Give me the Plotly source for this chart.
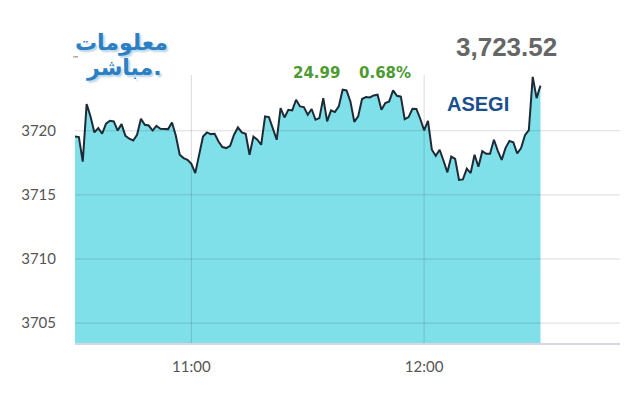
import pandas as pd
import plotly.graph_objects as go

# ---- data ----
start_time = "2024-01-01 10:30"
values = [
    3719.55, 3719.51, 3717.60, 3722.09, 3721.12, 3719.87, 3720.21, 3719.77, 3720.55, 3720.78,
    3720.73, 3720.02, 3720.52, 3719.61, 3719.38, 3719.24, 3719.69, 3720.94, 3720.47, 3720.41,
    3720.02, 3720.39, 3720.16, 3720.13, 3720.13, 3720.65, 3719.61, 3718.13, 3717.87, 3717.73,
    3717.42, 3716.70, 3718.26, 3719.55, 3719.87, 3719.74, 3719.77, 3719.16, 3718.73, 3718.65,
    3718.83, 3719.69, 3720.26, 3719.87, 3719.77, 3718.13, 3719.55, 3719.30, 3718.91, 3721.12,
    3721.07, 3720.21, 3719.30, 3721.77, 3721.04, 3721.64, 3721.59, 3722.42, 3721.90, 3721.85,
    3721.25, 3721.70, 3720.86, 3720.99, 3722.55, 3720.73, 3721.59, 3721.46, 3721.90, 3723.20,
    3723.15, 3722.29, 3720.70, 3721.12, 3722.48, 3722.63, 3722.60, 3722.76, 3722.81, 3721.64,
    3722.16, 3722.29, 3723.15, 3722.73, 3722.66, 3720.91, 3721.07, 3721.72, 3721.70, 3720.94,
    3720.04, 3720.78, 3718.52, 3718.05, 3718.52, 3717.66, 3716.76, 3717.99, 3717.81, 3716.17,
    3716.21, 3717.05, 3716.70, 3718.13, 3717.19, 3718.41, 3718.20, 3718.20, 3719.30, 3718.44,
    3717.73, 3718.67, 3719.20, 3719.10, 3718.23, 3718.65, 3719.65, 3720.05, 3724.20, 3722.55,
    3723.52,
]
times = pd.date_range(start_time, periods=len(values), freq="1min")

x_tick_vals = ["2024-01-01 11:00", "2024-01-01 12:00"]
x_tick_text = ["11:00", "12:00"]
y_tick_vals = [3705, 3710, 3715, 3720]
y_tick_text = ["3705", "3710", "3715", "3720"]
x_range = ["2024-01-01 10:30", "2024-01-01 12:50:30"]
y_range = [3703.45, 3724.35]

last_value_text = "3,723.52"
change_text = "24.99"
change_pct_text = "0.68%"
index_name = "ASEGI"
logo_line1 = "معلومات"
logo_line2 = "مباشر."

fig = go.Figure()
fig.add_trace(go.Scatter(
    x=times, y=values, mode="lines",
    line=dict(color="#1e2b36", width=2),
    fill="tozeroy", fillcolor="#80e0ea",
    hoverinfo="x+y",
))

grid_color = "rgba(0,0,0,0.14)"
shapes = []
for v in y_tick_vals:
    shapes.append(dict(type="line", xref="paper", x0=0, x1=1, yref="y", y0=v, y1=v,
                       line=dict(color=grid_color, width=1), layer="above"))
for t in x_tick_vals:
    shapes.append(dict(type="line", xref="x", x0=t, x1=t, yref="paper", y0=0, y1=1,
                       line=dict(color=grid_color, width=1), layer="above"))


def label(text, x, y, size, color, family="Liberation Sans", shadow=None):
    font = dict(family=family, size=size, color=color)
    if shadow:
        font["shadow"] = shadow
    return dict(text=text, x=x, y=y, xref="paper", yref="paper", showarrow=False,
                xanchor="center", yanchor="middle", font=font)


annotations = [
    label(f"<b>{last_value_text}</b>", 0.791, 1.104, 26, "#666666"),
    label(f"<b>{change_text}</b>", 0.444, 1.007, 15, "#4d9a33", "DejaVu Sans"),
    label(f"<b>{change_pct_text}</b>", 0.569, 1.007, 15, "#4d9a33", "DejaVu Sans"),
    label(f"<b>{index_name}</b>", 0.739, 0.892, 20, "#1b4f8c"),
    label(f"<b>{logo_line1}</b>", 0.086, 1.118, 22, "#2a80c2", "DejaVu Sans",
          "2px 2px 2px #b9d3e6"),
    label(f"<b>{logo_line2}</b>", 0.090, 1.026, 22, "#2a80c2", "DejaVu Sans",
          "2px 2px 2px #b9d3e6"),
    label("™", 0.0, 1.058, 7, "#555555", "DejaVu Sans"),
]

# the page body has an 8px margin, so the figure is offset by 8px
fig.update_layout(
    width=632, height=392,
    margin=dict(l=67, r=20, t=67, b=57),
    paper_bgcolor="white", plot_bgcolor="white",
    showlegend=False,
    shapes=shapes,
    annotations=annotations,
    xaxis=dict(
        type="date", range=x_range, automargin=False,
        tickvals=x_tick_vals, ticktext=x_tick_text,
        showgrid=False, zeroline=False,
        showline=True, linecolor="#d3d7e6", linewidth=2,
        ticks="outside", ticklen=9, tickcolor="rgba(0,0,0,0)",
        tickfont=dict(family="Lato", size=15, color="#555555"),
    ),
    yaxis=dict(
        range=y_range, automargin=False,
        tickvals=y_tick_vals, ticktext=y_tick_text,
        showgrid=False, zeroline=False, showline=False,
        ticks="outside", ticklen=15, tickcolor="rgba(0,0,0,0)",
        tickfont=dict(family="Lato", size=15, color="#555555"),
    ),
)

fig.write_html("out.html")
